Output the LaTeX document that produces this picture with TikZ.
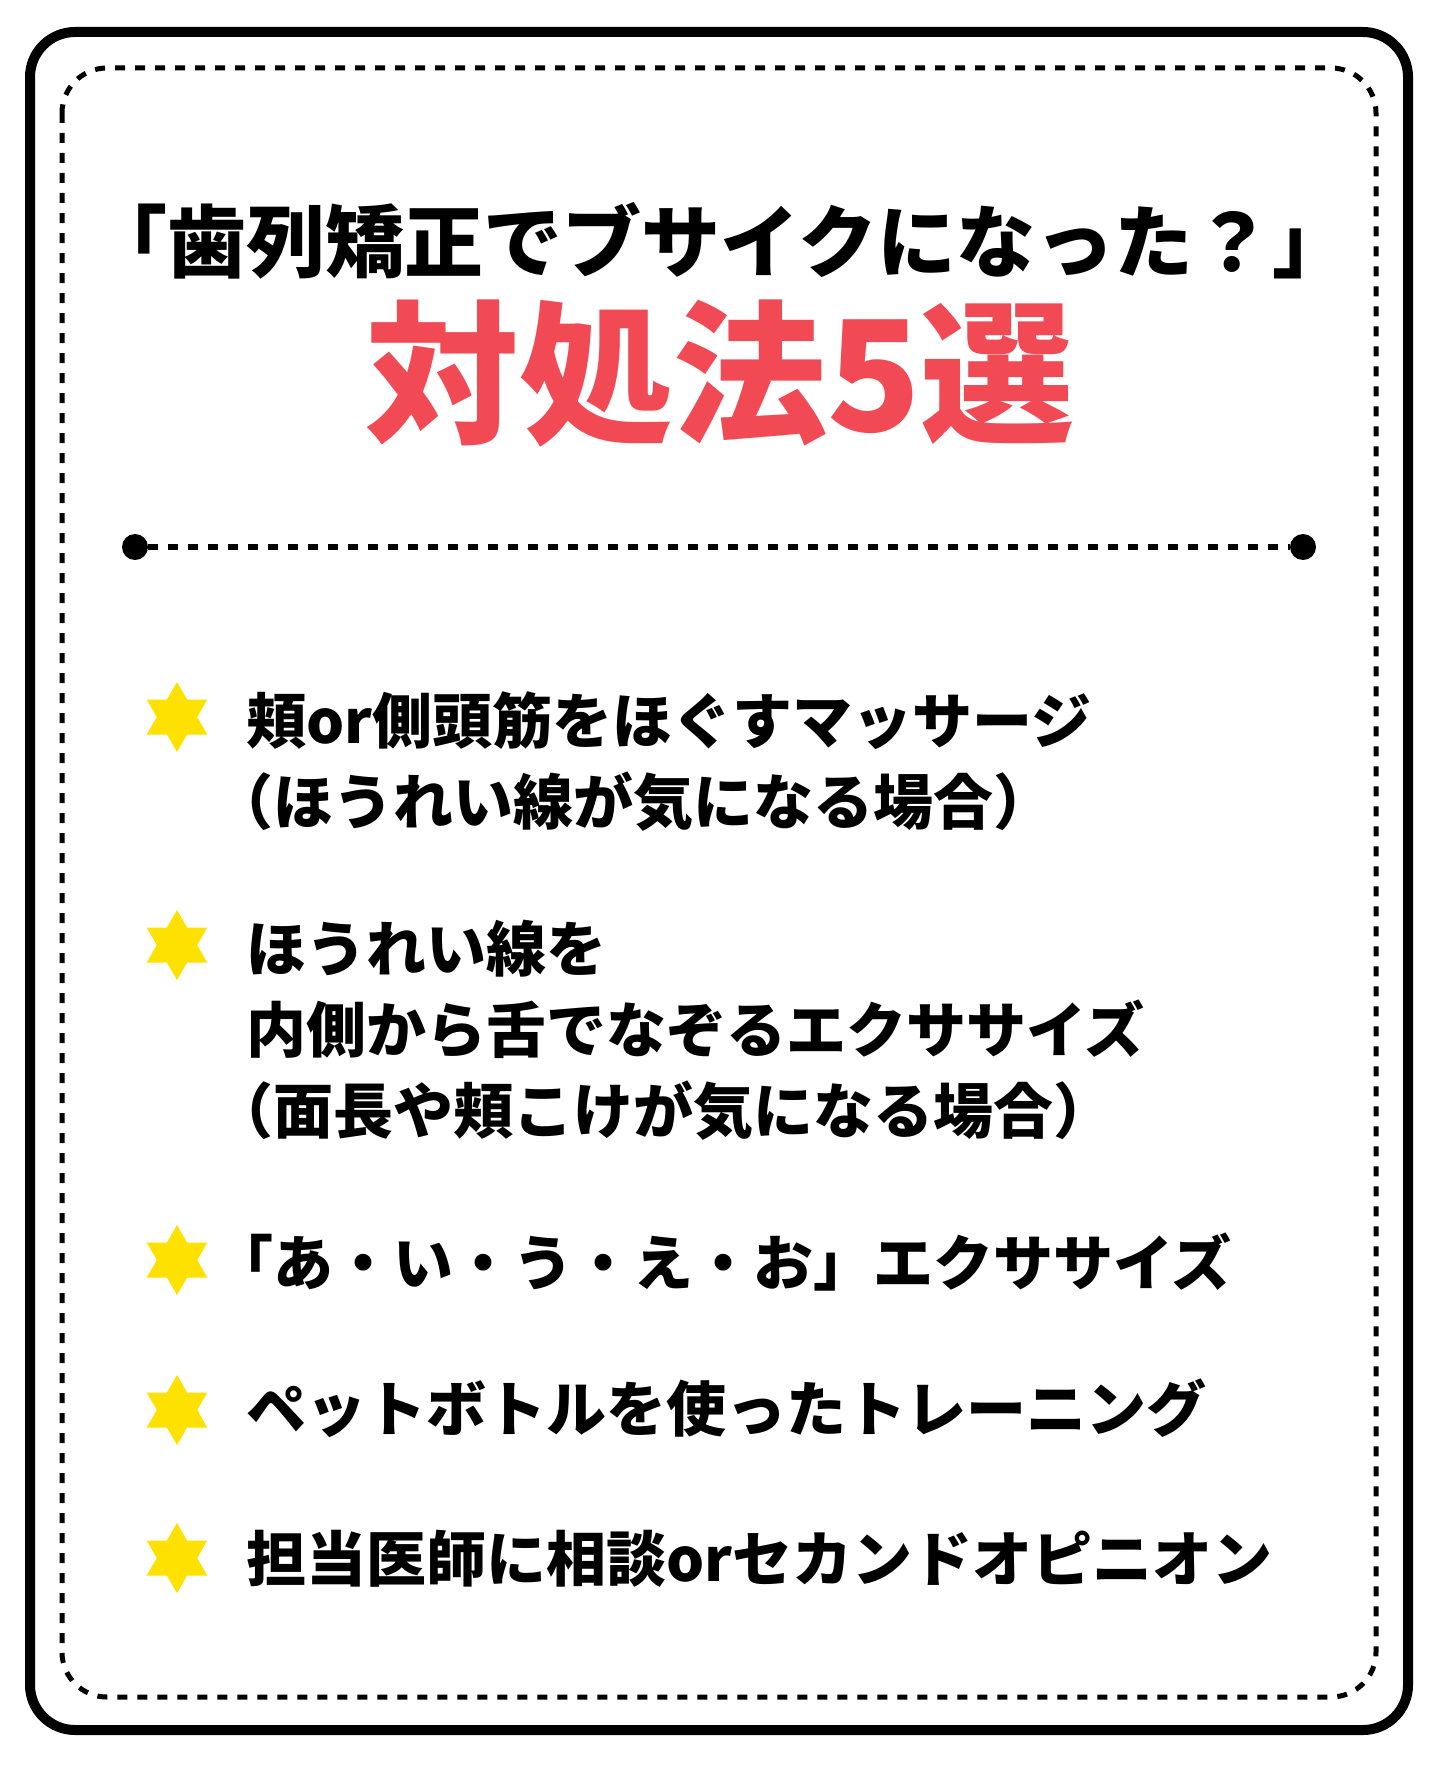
\documentclass[tikz,border=0pt]{standalone}
\usepackage{fontspec}
\setmainfont{Noto Sans CJK JP}[BoldFont={* Black}]
\usepackage[dvipsnames]{xcolor}
\usepackage{tikz}
\usetikzlibrary{shapes.geometric}
\definecolor{titlered}{RGB}{242,74,85}
\definecolor{staryellow}{RGB}{255,225,0}

\begin{document}
\begin{tikzpicture}[x=1pt, y=-1pt,
        star6/.style={star, star points=6, star point ratio=1.732, minimum size=70pt, inner sep=0pt, fill=staryellow},
        item/.style={anchor=base west, inner sep=0pt, align=left, font=\fontsize{60}{81}\selectfont\bfseries}]
            \useasboundingbox (0, 0) rectangle (1440, 1790);
            \fill [white] (0, 0) rectangle (1440, 1790);
            \draw [line width=10pt, rounded corners=45pt] (30, 32) rectangle (1408, 1730);
            \draw [line width=5pt, dash pattern=on 10pt off 10pt, rounded corners=45pt] (62, 68) rectangle (1376, 1697);

            \node[anchor=base, inner sep=0pt, font=\fontsize{79}{79}\selectfont\bfseries] at (720, 271) (title) {「歯列矯正でブサイクになった？」};
            \node[anchor=base, inner sep=0pt, text=titlered, font=\fontsize{154}{154}\selectfont\bfseries] at (720, 431) (count) {対処法5選};

            \node[circle, fill, minimum size=26pt, inner sep=0pt] at (135, 547)  (ldot) {};
            \node[circle, fill, minimum size=26pt, inner sep=0pt] at (1303, 547) (rdot) {};
            \draw [line width=6pt, dash pattern=on 10pt off 10pt] (ldot) -- (rdot);

            \node[star6] at (177, 717)  (s1) {};
            \node[star6] at (177, 945)  (s2) {};
            \node[star6] at (177, 1260) (s3) {};
            \node[star6] at (177, 1410) (s4) {};
            \node[star6] at (177, 1558) (s5) {};

            \node[item] at (246, 824)  (t1) {頬or側頭筋をほぐすマッサージ\\\hspace*{-0.55em}（ほうれい線が気になる場合）};
            \node[item] at (246, 1133) (t2) {ほうれい線を\\内側から舌でなぞるエクササイズ\\\hspace*{-0.55em}（面長や頬こけが気になる場合）};
            \node[item] at (246, 1285) (t3) {\hspace*{-0.55em}「あ・い・う・え・お」エクササイズ};
            \node[item] at (246, 1431) (t4) {ペットボトルを使ったトレーニング};
            \node[item] at (246, 1581) (t5) {担当医師に相談orセカンドオピニオン};
\end{tikzpicture}
\end{document}
